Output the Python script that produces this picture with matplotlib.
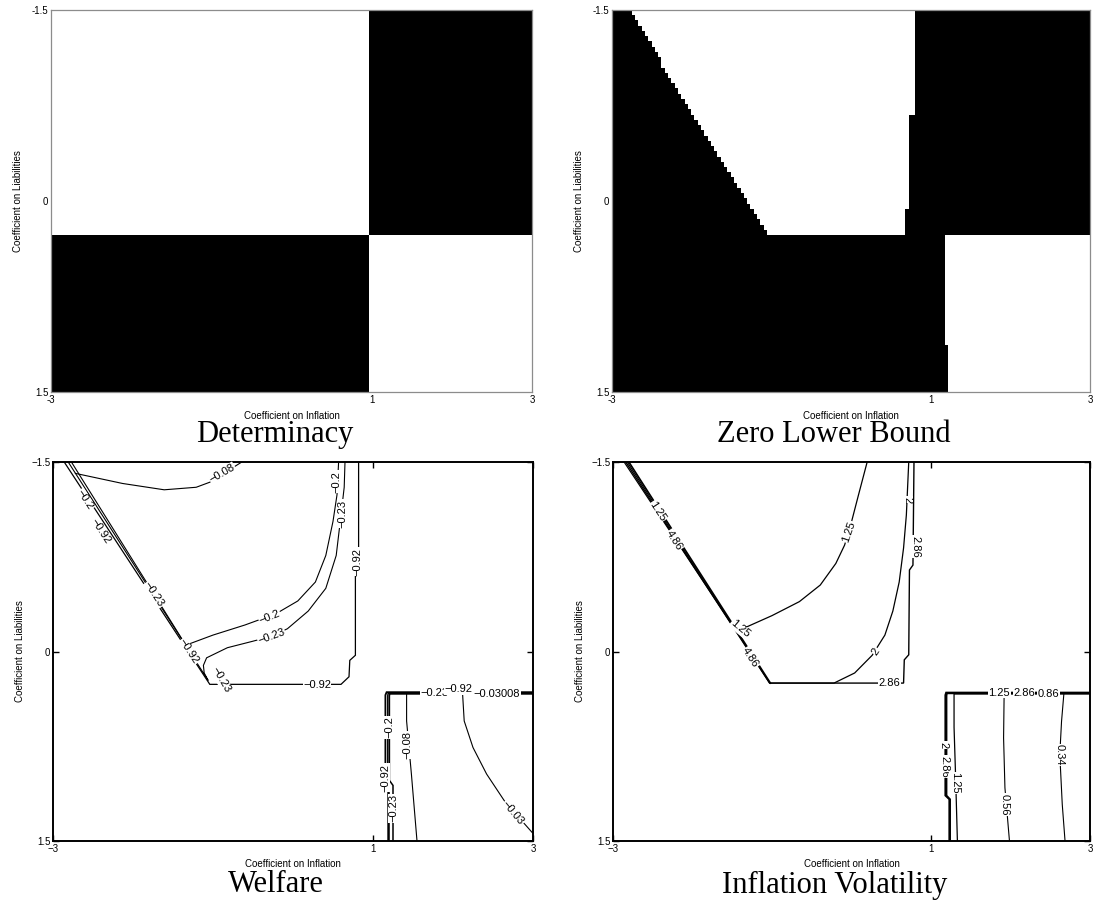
import numpy as np
import matplotlib.pyplot as plt

plt.rcParams['font.family'] = ['Liberation Sans', 'DejaVu Sans']

# ---- grid of the policy-rule space ----
X_RANGE = (-3.0, 3.0)
Y_RANGE = (-1.5, 1.5)
N_X, N_Y = 145, 73

# ---- Determinacy: quadrant split ----
DET_X_BREAK = 1.0
DET_Y_BREAK = 0.28

# ---- Zero lower bound: white regions ----
ZLB_DIAG_Y = [-1.5, 0.28]          # left (diagonal) edge of upper white area
ZLB_DIAG_X = [-2.78, -1.05]
ZLB_A_STEP_Y = [-0.68, 0.05]       # right edge of upper white area (steps)
ZLB_A_EDGE_X = [0.81, 0.74, 0.69]
ZLB_B_STEP_Y = [1.15]              # left edge of lower-right white area
ZLB_B_EDGE_X = [1.18, 1.22]

# ---- Welfare contour lines ----
W_008_X = [-2.72, -2.13, -1.61, -1.21, -1.04, -0.64]
W_008_Y = [-1.41, -1.33, -1.28, -1.30, -1.34, -1.50]
W_02_X = [-2.77, -1.34, -1.00, -0.60, -0.21, 0.06, 0.28, 0.41, 0.50, 0.55, 0.57]
W_02_Y = [-1.50, -0.05, -0.13, -0.21, -0.30, -0.40, -0.55, -0.76, -1.03, -1.24, -1.50]
W_023_X = [-2.81, -1.06, -1.11, -1.12, -1.08, -0.82, -0.51, -0.27, -0.07, 0.19, 0.41, 0.54, 0.60, 0.64, 0.65]
W_023_Y = [-1.50, 0.23, 0.17, 0.11, 0.05, -0.03, -0.08, -0.12, -0.18, -0.32, -0.50, -0.76, -1.08, -1.30, -1.50]
W_092_X = [-2.86, -1.04, 0.60, 0.70, 0.71, 0.78, 0.78, 0.82, 0.82]
W_092_Y = [-1.50, 0.26, 0.26, 0.20, 0.07, 0.03, -0.60, -0.66, -1.50]
W_BOX_092_X = [3.0, 1.17, 1.155, 1.155, 1.19, 1.19]
W_BOX_092_Y = [0.322, 0.322, 0.345, 1.00, 1.05, 1.50]
W_BOX_02_X = [3.0, 1.19, 1.185, 1.185, 1.20, 1.20]
W_BOX_02_Y = [0.330, 0.330, 0.350, 1.00, 1.05, 1.50]
W_BOX_023_X = [3.0, 1.21, 1.205, 1.205, 1.25, 1.25]
W_BOX_023_Y = [0.336, 0.336, 0.350, 1.02, 1.06, 1.50]
W_BOX_008_X = [1.42, 1.42, 1.48, 1.55]
W_BOX_008_Y = [0.335, 0.55, 0.97, 1.50]
W_003_X = [2.12, 2.14, 2.25, 2.42, 2.64, 2.86, 3.0]
W_003_Y = [0.337, 0.55, 0.76, 0.97, 1.18, 1.34, 1.44]
W_LABELS = [('\u22120.08', -0.885, -1.41, 30), ('\u22120.2', 0.54, -1.345, 90),
            ('\u22120.23', 0.62, -1.09, 90), ('\u22120.2', -0.29, -0.27, 22),
            ('\u22120.23', -0.27, -0.12, 20), ('\u22120.92', 0.81, -0.71, 90),
            ('\u22120.92', 0.30, 0.262, 0), ('\u22120.23', -0.90, 0.22, -60),
            ('\u22120.92', -2.40, -0.95, -57), ('\u22120.23', -1.74, -0.45, -57),
            ('\u22120.92', -1.30, 0.0, -57), ('\u22120.2', -2.60, -1.20, -57),
            ('\u22120.23', 1.77, 0.33, 0), ('\u22120.92', 2.07, 0.30, 0),
            ('\u22120.03008', 2.55, 0.335, 0), ('\u22120.2', 1.20, 0.60, 90),
            ('\u22120.92', 1.15, 1.00, 90), ('\u22120.23', 1.25, 1.24, 90),
            ('\u22120.08', 1.436, 0.74, 90), ('\u22120.03', 2.75, 1.28, -50)]

# ---- Inflation volatility contour lines ----
V_286_X = [-2.84, -1.03, 0.655, 0.664, 0.72, 0.729, 0.773, 0.786]
V_286_Y = [-1.50, 0.25, 0.25, 0.066, 0.026, -0.645, -0.684, -1.50]
V_2_X = [-2.82, -1.03, -0.22, 0.04, 0.26, 0.42, 0.52, 0.60, 0.655, 0.69, 0.72]
V_2_Y = [-1.50, 0.25, 0.25, 0.17, 0.03, -0.13, -0.32, -0.55, -0.82, -1.08, -1.50]
V_125_X = [-2.86, -1.48, -1.31, -1.00, -0.655, -0.393, -0.197, -0.087, 0.0, 0.087, 0.197]
V_125_Y = [-1.50, -0.19, -0.197, -0.284, -0.395, -0.526, -0.697, -0.842, -1.026, -1.237, -1.50]
V_486_X = [-2.80, -1.02]
V_486_Y = [-1.50, 0.25]
V_BOX_2_X = [3.0, 1.19, 1.18, 1.18, 1.23, 1.23]
V_BOX_2_Y = [0.325, 0.325, 0.345, 1.14, 1.17, 1.50]
V_BOX_286_X = [3.0, 1.20, 1.195, 1.195, 1.24, 1.24]
V_BOX_286_Y = [0.331, 0.331, 0.350, 1.14, 1.17, 1.50]
V_BOX_125_X = [3.0, 1.29, 1.29, 1.31, 1.332]
V_BOX_125_Y = [0.336, 0.336, 0.60, 1.00, 1.50]
V_056_X = [1.92, 1.913, 1.93, 1.987]
V_056_Y = [0.33, 0.684, 1.079, 1.50]
V_034_X = [2.672, 2.642, 2.62, 2.651, 2.686]
V_034_Y = [0.33, 0.553, 0.816, 1.21, 1.50]
V_LABELS = [('1.25', -2.445, -1.105, -57), ('4.86', -2.23, -0.88, -57),
            ('1.25', -1.40, -0.18, -40), ('4.86', -1.27, 0.05, -57),
            ('2.86', 0.48, 0.25, 0), ('2', 0.31, 0.0, 55), ('2', 0.706, -1.20, -90),
            ('1.25', -0.035, -0.947, 71), ('2.86', 0.80, -0.83, -90),
            ('1.25', 1.86, 0.325, 0), ('2.86', 2.17, 0.325, 0), ('0.86', 2.48, 0.335, 0),
            ('2', 1.157, 0.74, -90), ('2.86', 1.17, 0.91, -90), ('1.25', 1.30, 1.04, -90),
            ('0.56', 1.93, 1.21, -90), ('0.34', 2.62, 0.82, -90)]

XTICKS = [-3, 1, 3]
YTICKS = [-1.5, 0, 1.5]
TITLES = ['Determinacy', 'Zero Lower Bound', 'Welfare', 'Inflation Volatility']

# grid and masks (True = white)
xs = np.linspace(*X_RANGE, N_X)
ys = np.linspace(*Y_RANGE, N_Y)
X, Y = np.meshgrid(xs, ys)

det = (X < DET_X_BREAK) == (Y < DET_Y_BREAK)

diag = np.interp(Y, ZLB_DIAG_Y, ZLB_DIAG_X)
edge_a = np.array(ZLB_A_EDGE_X)[np.searchsorted(ZLB_A_STEP_Y, Y)]
edge_b = np.array(ZLB_B_EDGE_X)[np.searchsorted(ZLB_B_STEP_Y, Y)]
zlb = ((Y < DET_Y_BREAK) & (X > diag) & (X < edge_a)) | ((Y > DET_Y_BREAK) & (X > edge_b))

W, H = 1094, 907
fig = plt.figure(figsize=(W / 100, H / 100), dpi=100)


def add_ax(l, t, r, b):
    return fig.add_axes([l / W, 1 - b / H, (r - l) / W, (b - t) / H])


boxes = [(51, 10, 532, 392), (612, 10, 1090, 392), (53, 462, 533, 841), (613, 462, 1090, 841)]
axes = [add_ax(*b) for b in boxes]

for i, (ax, b) in enumerate(zip(axes, boxes)):
    top = i < 2
    ax.set_xlim(*X_RANGE)
    ax.set_ylim(Y_RANGE[1], Y_RANGE[0])
    ax.set_xticks(XTICKS)
    ax.set_yticks(YTICKS)
    m = '-' if top else '\u2212'
    ax.set_xticklabels([f'{m}3', '1', '3'])
    ax.set_yticklabels([f'{m}1.5', '0', '1.5'])
    ax.tick_params(labelsize=7, pad=2, direction='in', top=not top, right=not top,
                   length=0 if top else 4, width=1.0, color='k')
    for sp in ax.spines.values():
        sp.set_color('0.55' if top else 'k')
        sp.set_linewidth(0.9 if top else 1.4)
    l, t, r, bt = b
    cx = (l + r) / 2
    fig.text(cx / W, 1 - (bt + (24 if top else 23)) / H, 'Coefficient on Inflation',
             ha='center', va='center', fontsize=7)
    fig.text((l - 33) / W, 1 - (t + bt) / 2 / H, 'Coefficient on Liabilities',
             ha='center', va='center', rotation=90, fontsize=7)
    fig.text((cx - 17) / W, 1 - (bt + (43 if top else 44)) / H, TITLES[i],
             ha='center', va='center', fontsize=22, family='Liberation Serif')

ext = [X_RANGE[0], X_RANGE[1], Y_RANGE[1], Y_RANGE[0]]
for ax, mask in zip(axes[:2], [det, zlb]):
    ax.imshow(np.where(mask, 1.0, 0.0), cmap='gray', vmin=0, vmax=1, extent=ext,
              origin='upper', aspect='auto', interpolation='nearest')
    ax.set_xlim(*X_RANGE)
    ax.set_ylim(Y_RANGE[1], Y_RANGE[0])


def draw(ax, lines, labels):
    for xv, yv, lw in lines:
        ax.plot(xv, yv, color='k', lw=lw, solid_joinstyle='miter')
    for s, x, y, rot in labels:
        ax.text(x, y, s, rotation=rot, ha='center', va='center', fontsize=8,
                bbox=dict(fc='white', ec='none', pad=0.3), zorder=5)


draw(axes[2], [(W_008_X, W_008_Y, 0.8), (W_02_X, W_02_Y, 0.8), (W_023_X, W_023_Y, 0.8),
               (W_092_X, W_092_Y, 0.9), (W_BOX_092_X, W_BOX_092_Y, 1.3),
               (W_BOX_02_X, W_BOX_02_Y, 1.1), (W_BOX_023_X, W_BOX_023_Y, 1.1),
               (W_BOX_008_X, W_BOX_008_Y, 0.8), (W_003_X, W_003_Y, 0.8)], W_LABELS)

draw(axes[3], [(V_286_X, V_286_Y, 1.0), (V_2_X, V_2_Y, 0.9), (V_125_X, V_125_Y, 0.9),
               (V_486_X, V_486_Y, 1.2), (V_BOX_2_X, V_BOX_2_Y, 1.3),
               (V_BOX_286_X, V_BOX_286_Y, 1.3), (V_BOX_125_X, V_BOX_125_Y, 0.9),
               (V_056_X, V_056_Y, 0.8), (V_034_X, V_034_Y, 0.8)], V_LABELS)

fig.savefig('out.png', dpi=100)
